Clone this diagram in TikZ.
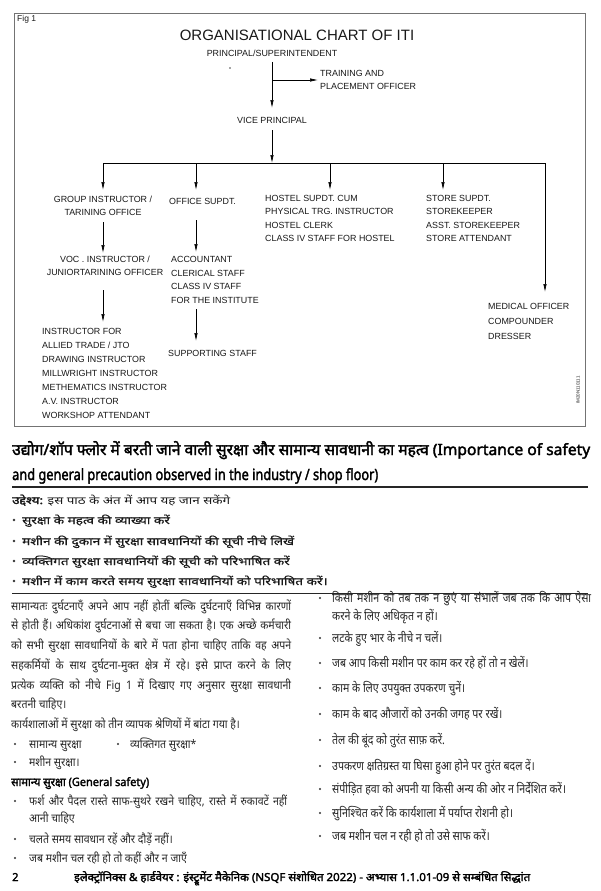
\documentclass[tikz,border=0pt]{standalone}
\usepackage{fontspec}
\usepackage{graphicx}
\setmainfont{Liberation Sans}
\newfontfamily\hin[Script=Devanagari]{Noto Sans}
\newfontfamily\hinb[Script=Devanagari,FakeBold=2.2]{Noto Sans}
\newfontfamily\hinm[Script=Devanagari,FakeBold=0.6]{Noto Sans}
\usetikzlibrary{arrows.meta}
\newcommand\hw[2]{\resizebox{#1pt}{\height}{#2}}
\newcommand\hsc[2]{\scalebox{#1}[1]{#2}}
\newcommand\jl[3]{\pgfmathsetlengthmacro\jtmp{#2/#1}\scalebox{#1}[1]{\makebox[\jtmp][s]{#3}}}
\newcommand\RF{\hin\fontsize{12.5}{15}\selectfont}
\newcommand\LF{\hin\fontsize{11.8}{14}\selectfont}
\newcommand\OF{\hinm\fontsize{10.5}{13}\selectfont}
\newsavebox\measbox
\begin{document}%
\sbox\measbox{\RF जब आप किसी मशीन पर काम कर रहे हों तो न खेलें।संपीड़ित हवा को अपनी या किसी अन्य की ओर न निर्देशित करें।उपकरण क्षतिग्रस्त या घिसा हुआ होने पर तुरंत बदल दें।}%
\pgfmathsetmacro\rs{633/\the\wd\measbox}%
\sbox\measbox{\LF कार्यशालाओं में सुरक्षा को तीन व्यापक श्रेणियों में बांटा गया है।चलते समय सावधान रहें और दौड़ें नहीं।जब मशीन चल रही हो तो कहीं और न जाएँ}%
\pgfmathsetmacro\ls{530/\the\wd\measbox}%
\sbox\measbox{\OF मशीन की दुकान में सुरक्षा सावधानियों की सूची नीचे लिखेंव्यक्तिगत सुरक्षा सावधानियों की सूची को परिभाषित करेंमशीन में काम करते समय सुरक्षा सावधानियों को परिभाषित करें।}%
\pgfmathsetmacro\os{845/\the\wd\measbox}%
\begin{tikzpicture}[x=1pt,y=-1pt,
  lab/.style={font=\fontsize{8.9}{13}\selectfont, inner sep=0pt, text=black!90},
  arr/.style={-{Latex[length=8pt,width=3.4pt]}, line width=0.6pt},
  ln/.style={line width=0.6pt},
  ht/.style={font=\LF, inner sep=0pt, anchor=base west, text=black!85},
  rt/.style={ht, font=\RF},
  ot/.style={ht, font=\OF, text=black!90},
  bt/.style={ht, font=\hinb\fontsize{11}{13}\selectfont, text=black},
  dotb/.style={fill=black!80, draw=none},
]
\useasboundingbox (0,0) rectangle (600,891);
\fill[white] (0,0) rectangle (600,891);

% ---------- figure frame ----------
\draw[line width=0.6pt, black!55] (14,13) rectangle (585,426);
\node[lab, anchor=west, font=\fontsize{8.5}{10}\selectfont] (fig) at (17,19) {Fig 1};
\node[lab, font=\fontsize{15}{18}\selectfont] (title) at (297,35) {ORGANISATIONAL CHART OF ITI};
\node[lab] (prin) at (272,53) {PRINCIPAL/SUPERINTENDENT};
\fill[black!70] (230,68) circle (0.8);
\node[lab, anchor=north west, align=left] (tpo) at (320,69.8) {TRAINING AND\\PLACEMENT OFFICER};
\node[lab] (vp) at (272,120) {VICE PRINCIPAL};

\node[lab, anchor=north, align=center] (grp) at (103,195.8) {GROUP INSTRUCTOR /\\TARINING OFFICE};
\node[lab, anchor=west] (off) at (169,201) {OFFICE SUPDT.};
\node[lab, anchor=north west, align=left] (hos) at (265,194.8) {HOSTEL SUPDT. CUM\\PHYSICAL TRG. INSTRUCTOR\\[1.5pt]HOSTEL CLERK\\CLASS IV STAFF FOR HOSTEL};
\node[lab, anchor=north west, align=left] (sto) at (426,194.8) {STORE SUPDT.\\STOREKEEPER\\[1.5pt]ASST. STOREKEEPER\\STORE ATTENDANT};
\node[lab, anchor=north, align=center] (voc) at (105,255.8) {VOC . INSTRUCTOR /\\JUNIORTARINING OFFICER};
\node[lab, anchor=north west, align=left, font=\fontsize{8.9}{13.8}\selectfont] (acc) at (171,255.8) {ACCOUNTANT\\CLERICAL STAFF\\CLASS IV STAFF\\FOR THE INSTITUTE};
\node[lab, anchor=west] (sup) at (168,353) {SUPPORTING STAFF};
\node[lab, anchor=north west, align=left, font=\fontsize{8.9}{14}\selectfont] (ins) at (42,327.8) {INSTRUCTOR FOR\\ALLIED TRADE / JTO\\DRAWING INSTRUCTOR\\MILLWRIGHT INSTRUCTOR\\METHEMATICS INSTRUCTOR\\A.V. INSTRUCTOR\\WORKSHOP ATTENDANT};
\node[lab, anchor=north west, align=left, font=\fontsize{8.9}{15}\selectfont] (med) at (488,302.8) {MEDICAL OFFICER\\COMPOUNDER\\DRESSER};
\node[lab, rotate=90, font=\fontsize{4.5}{5}\selectfont] (imid) at (578,390) {IM20N110111};

% connector coordinates
\coordinate (p0) at (272,62);
\coordinate (j1) at (272,80);
\coordinate (t1) at (318,80);
\coordinate (v0) at (272,108);
\coordinate (v1) at (272,130);
\coordinate (bm) at (272,163);
\coordinate (b1) at (103,163);
\coordinate (b2) at (196,163);
\coordinate (b3) at (330,163);
\coordinate (b4) at (443,163);
\coordinate (b5) at (545,163);
\coordinate (g1) at (103,190);
\coordinate (o1) at (196,190);
\coordinate (h1) at (330,190);
\coordinate (s1) at (443,190);
\coordinate (m1) at (545,292);
\coordinate (g2a) at (103,222);
\coordinate (g2b) at (103,253);
\coordinate (o2a) at (196,220);
\coordinate (o2b) at (196,252);
\coordinate (g3a) at (103,290);
\coordinate (g3b) at (103,322);
\coordinate (o3a) at (196,309);
\coordinate (o3b) at (196,341);

\draw[arr] (p0) -- (v0);
\draw[arr] (j1) -- (t1);
\draw[arr] (v1) -- (bm);
\draw[ln] (b1) -- (b5);
\draw[arr] (b1) -- (g1);
\draw[arr] (b2) -- (o1);
\draw[arr] (b3) -- (h1);
\draw[arr] (b4) -- (s1);
\draw[arr] (b5) -- (m1);
\draw[arr] (g2a) -- (g2b);
\draw[arr] (o2a) -- (o2b);
\draw[arr] (g3a) -- (g3b);
\draw[arr] (o3a) -- (o3b);

% ---------- heading ----------
\node[bt, font=\hinb\fontsize{15.5}{18}\selectfont] (h1t) at (12,455) {\hw{578}{उद्योग/शॉप फ्लोर में बरती जाने वाली सुरक्षा और सामान्य सावधानी का महत्व (Importance of safety}};
\node[bt, font=\hinb\fontsize{15.5}{18}\selectfont] (h2t) at (12,480) {\hw{366}{and general precaution observed in the industry / shop floor)}};
\draw[line width=1.4pt, black!85] (12,487) -- (588,487);

% objectives
\node[ot, font=\hin\fontsize{10.5}{13}\selectfont] (obj) at (12,504) {\hw{218}{{\hinb उद्देश्य:} इस पाठ के अंत में आप यह जान सकेंगे}};
\foreach \yy/\tt [count=\i] in {524/{सुरक्षा के महत्व की व्याख्या करें},545/{मशीन की दुकान में सुरक्षा सावधानियों की सूची नीचे लिखें},565/{व्यक्तिगत सुरक्षा सावधानियों की सूची को परिभाषित करें},585/{मशीन में काम करते समय सुरक्षा सावधानियों को परिभाषित करें।}}{
  \fill[dotb] (14,\yy-4) circle (1.3);
  \node[ot] (ob\i) at (22,\yy) {\hsc{\os}{\tt}};
}
\draw[line width=0.9pt, black!85] (12,593) -- (588,593);

% ---------- left column ----------
\node[ht] (l1) at (11,610) {\jl{\ls}{280}{सामान्यतः दुर्घटनाएँ अपने आप नहीं होतीं बल्कि दुर्घटनाएँ विभिन्न कारणों}};
\node[ht] (l2) at (11,629) {\jl{\ls}{280}{से होती हैं। अधिकांश दुर्घटनाओं से बचा जा सकता है। एक अच्छे कर्मचारी}};
\node[ht] (l3) at (11,649) {\jl{\ls}{280}{को सभी सुरक्षा सावधानियों के बारे में पता होना चाहिए ताकि वह अपने}};
\node[ht] (l4) at (11,669) {\jl{\ls}{280}{सहकर्मियों के साथ दुर्घटना-मुक्त क्षेत्र में रहे। इसे प्राप्त करने के लिए}};
\node[ht] (l5) at (11,689) {\jl{\ls}{280}{प्रत्येक व्यक्ति को नीचे Fig 1 में दिखाए गए अनुसार सुरक्षा सावधानी}};
\node[ht] (l6) at (11,708) {\hsc{\ls}{बरतनी चाहिए।}};
\node[ht] (l7) at (11,728) {\hsc{\ls}{कार्यशालाओं में सुरक्षा को तीन व्यापक श्रेणियों में बांटा गया है।}};
\fill[dotb] (15,744) circle (1.2);
\node[ht] (l8a) at (29,748) {\hsc{\ls}{सामान्य सुरक्षा}};
\fill[dotb] (118,744) circle (1.2);
\node[ht] (l8b) at (130,748) {\hsc{\ls}{व्यक्तिगत सुरक्षा*}};
\fill[dotb] (15,762) circle (1.2);
\node[ht] (l9) at (29,766) {\hsc{\ls}{मशीन सुरक्षा।}};
\node[bt, font=\hinb\fontsize{11.5}{14}\selectfont] (l10) at (11,786) {\hw{138}{सामान्य सुरक्षा (General safety)}};
\fill[dotb] (15,801) circle (1.2);
\node[ht] (l11) at (29,805) {\jl{\ls}{258}{फर्श और पैदल रास्ते साफ-सुथरे रखने चाहिए, रास्ते में रुकावटें नहीं}};
\node[ht] (l12) at (29,822) {\hsc{\ls}{आनी चाहिए}};
\fill[dotb] (15,839) circle (1.2);
\node[ht] (l13) at (29,843) {\hsc{\ls}{चलते समय सावधान रहें और दौड़ें नहीं।}};
\fill[dotb] (15,858) circle (1.2);
\node[ht] (l14) at (29,862) {\hsc{\ls}{जब मशीन चल रही हो तो कहीं और न जाएँ}};

% footer
\node[bt] (pg) at (12,881) {2};
\node[bt] (ft) at (74,881) {\hw{456}{इलेक्ट्रॉनिक्स \& हार्डवेयर : इंस्ट्रूमेंट मैकेनिक (NSQF संशोधित 2022) - अभ्यास 1.1.01-09 से सम्बंधित सिद्धांत}};

% ---------- right column ----------
\fill[dotb] (320,598) circle (1.2);
\node[rt] (r1) at (332,602) {\jl{\rs}{259}{किसी मशीन को तब तक न छुएं या संभालें जब तक कि आप ऐसा}};
\node[rt] (r1b) at (332,620) {\hsc{\rs}{करने के लिए अधिकृत न हों।}};
\foreach \yy/\tt [count=\i] in {642/{लटके हुए भार  के नीचे न चलें।},667/{जब आप किसी मशीन पर काम कर रहे हों तो न खेलें।},692/{काम के लिए उपयुक्त उपकरण चुनें।},718/{काम के बाद औजारों को उनकी जगह पर रखें।},744/{तेल की बूंद को तुरंत साफ़ करें.},770/{उपकरण क्षतिग्रस्त या घिसा हुआ होने पर तुरंत बदल दें।},793/{संपीड़ित हवा को अपनी या किसी अन्य की ओर न निर्देशित करें।},817/{सुनिश्चित करें कि कार्यशाला में पर्याप्त रोशनी हो।},840/{जब मशीन चल न रही हो तो उसे साफ करें।}}{
  \fill[dotb] (320,\yy-4) circle (1.2);
  \node[rt] (r\i x) at (332,\yy) {\hsc{\rs}{\tt}};
}
\end{tikzpicture}
\end{document}
